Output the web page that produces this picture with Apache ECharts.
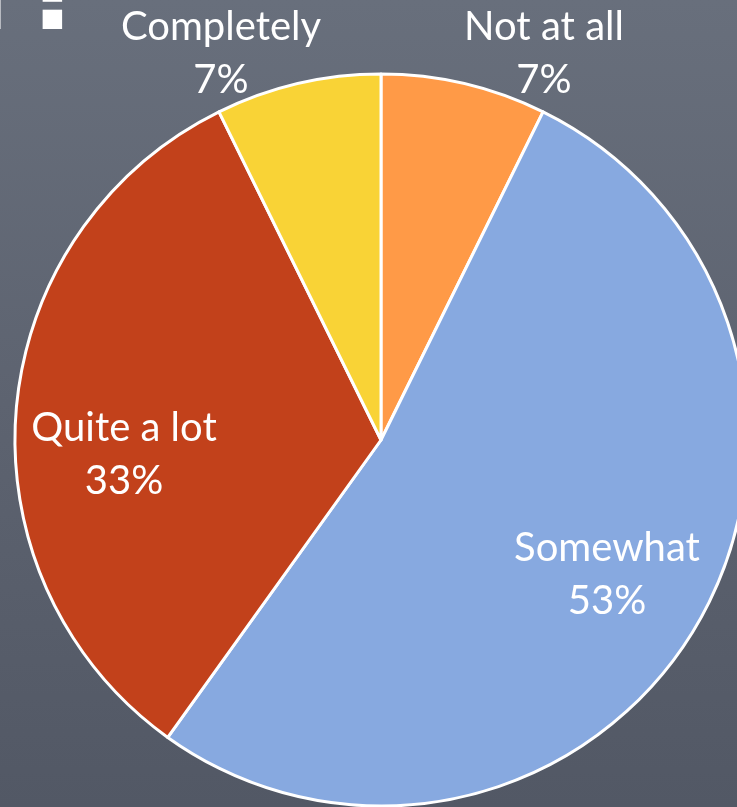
<!DOCTYPE html>
<html><head><meta charset="utf-8">
<script src="https://cdn.jsdelivr.net/npm/echarts@6/dist/echarts.min.js"></script>
<style>
html,body{margin:0;padding:0;}
body{width:737px;height:807px;overflow:hidden;background:linear-gradient(180deg,#686f7c 0%,#5d6370 50%,#525865 100%);}
#c{width:737px;height:807px;}
</style></head><body><div id="c"></div>
<script>
const categories = ['Not at all', 'Somewhat', 'Quite a lot', 'Completely'];
const values = [7.3, 52.6, 32.8, 7.3];
const colors = ['#FF9A47', '#87A9E0', '#C2411B', '#F9D336'];
const labelPos = [[544, 54], [607, 575], [124, 455], [221, 54]];

const chart = echarts.init(document.getElementById('c'), null, {renderer: 'canvas'});
chart.setOption({
  backgroundColor: 'transparent',
  animation: false,
  graphic: [
    {type: 'text', left: -28, top: -55, style: {text: 'l', fontSize: 110, fontWeight: 'bold', fontFamily: 'DejaVu Sans', fill: '#fff'}},
    {type: 'text', left: 24, top: -55, style: {text: '?', fontSize: 110, fontWeight: 'bold', fontFamily: 'DejaVu Sans', fill: '#fff'}}
  ],
  series: [{
    type: 'pie',
    center: [381, 440],
    radius: 366,
    startAngle: 90,
    clockwise: true,
    avoidLabelOverlap: false,
    itemStyle: {borderColor: '#fff', borderWidth: 3},
    label: {
      show: true,
      position: 'inside',
      color: '#fff',
      fontFamily: 'Lato',
      fontSize: 40,
      lineHeight: 53,
      align: 'center',
      formatter: p => p.name + '\n' + Math.round(p.percent) + '%'
    },
    labelLine: {show: false},
    labelLayout: p => ({x: labelPos[p.dataIndex][0], y: labelPos[p.dataIndex][1], align: 'center', verticalAlign: 'middle'}),
    emphasis: {disabled: true},
    data: categories.map((n, i) => ({name: n, value: values[i], itemStyle: {color: colors[i]}}))
  }]
});
</script></body></html>
